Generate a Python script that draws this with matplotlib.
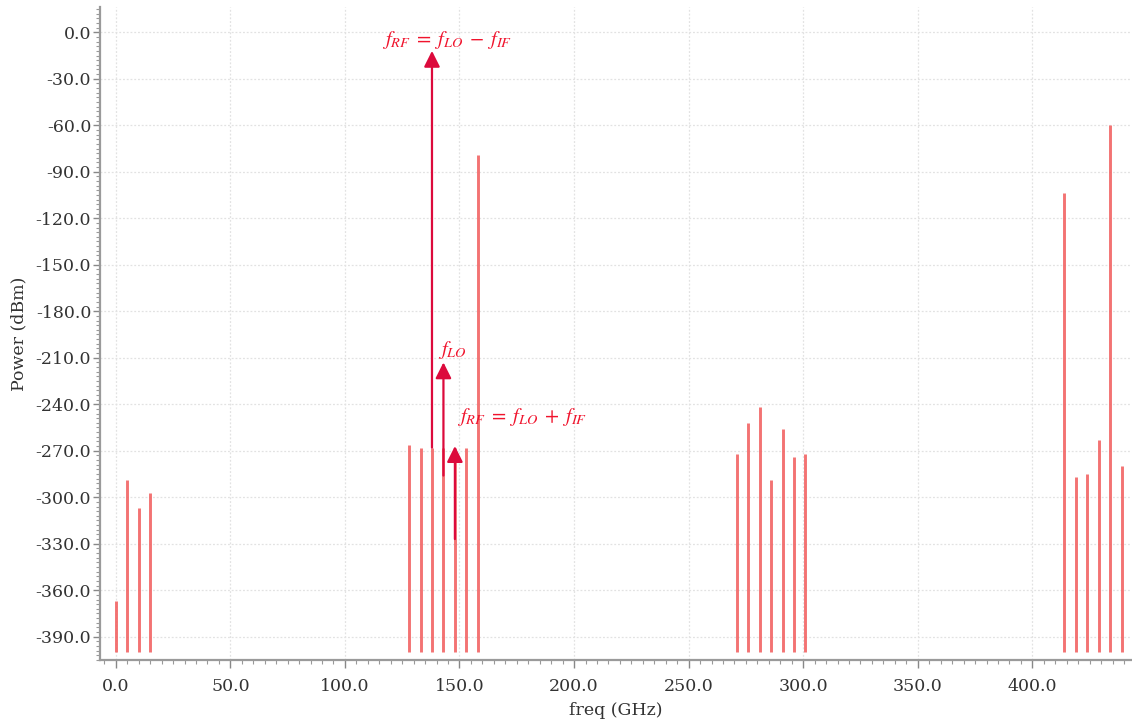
import matplotlib
matplotlib.use("Agg")
import matplotlib.pyplot as plt
from matplotlib.ticker import MultipleLocator, FormatStrFormatter

# Mixer output spectrum: tone frequencies (GHz) and their power (dBm)
freq_ghz = [0, 5, 10, 15,
            128, 133, 138, 143, 148, 153, 158,
            271, 276, 281, 286, 291, 296, 301,
            414, 419, 424, 429, 434, 439]
power_dbm = [-367, -289, -307, -297,
             -266, -268, -268, -268, -268, -268, -79,
             -272, -252, -242, -289, -256, -274, -272,
             -104, -287, -285, -263, -60, -280]
floor_dbm = -400

# Annotation arrows: (frequency, start power, tip power)
arrow_freq = [138, 143, 148]
arrow_start = [-268, -286, -327]
arrow_tip = [-12, -213, -267]
arrow_text = [r'$f_{RF}\;=\;f_{LO}\;-\;f_{IF}$', r'$f_{LO}$',
              r'$f_{RF}\;=\;f_{LO}\;+\;f_{IF}$']
text_pos = [(116.0, -5), (140.5, -205), (149.0, -248)]

plt.rcParams['font.family'] = 'DejaVu Serif'
plt.rcParams['mathtext.fontset'] = 'stix'

fig = plt.figure(figsize=(11.32, 7.25), dpi=100)
ax = fig.add_axes([0.0885, 0.0897, 0.9105, 0.9])

ax.vlines(freq_ghz, floor_dbm, power_dbm, color='#f26464', lw=2.1, alpha=0.9, zorder=3)

arrow_color = '#dc0a3c'
for f, y0, y1 in zip(arrow_freq, arrow_start, arrow_tip):
    ax.annotate('', xy=(f, y1), xytext=(f, y0),
                arrowprops=dict(arrowstyle='-|>', color=arrow_color, lw=1.6,
                                mutation_scale=24, shrinkA=0, shrinkB=0),
                zorder=5)
for s, (tx, ty) in zip(arrow_text, text_pos):
    ax.text(tx, ty, s, color='#f0142d', fontsize=14.8, ha='left', va='center', zorder=6)

ax.set_xlim(-6.8, 443)
ax.set_ylim(-405, 16)

ax.xaxis.set_major_locator(MultipleLocator(50))
ax.xaxis.set_minor_locator(MultipleLocator(5))
ax.yaxis.set_major_locator(MultipleLocator(30))
ax.yaxis.set_minor_locator(MultipleLocator(3))
ax.xaxis.set_major_formatter(FormatStrFormatter('%.1f'))
ax.yaxis.set_major_formatter(FormatStrFormatter('%.1f'))

ax.grid(True, which='major', color='#e2e2e2', linestyle=(0, (1.5, 1.5)), lw=0.9)
ax.set_axisbelow(True)

for side in ('top', 'right'):
    ax.spines[side].set_visible(False)
for side in ('left', 'bottom'):
    ax.spines[side].set_color('#9a9a9a')
    ax.spines[side].set_linewidth(1.6)

ax.tick_params(axis='both', which='major', length=5, width=1, color='#888888',
               labelsize=12.5, labelcolor='#333333')
ax.tick_params(axis='y', which='major', pad=1.5)
ax.tick_params(axis='x', which='major', length=6, pad=7)
ax.tick_params(axis='both', which='minor', length=3, width=0.8, color='#999999')

ax.set_xlabel('freq (GHz)', fontsize=12.5, color='#333333', labelpad=5)
ax.set_ylabel('Power (dBm)', fontsize=12.5, color='#333333', labelpad=6)

fig.savefig('out.png', dpi=100)
